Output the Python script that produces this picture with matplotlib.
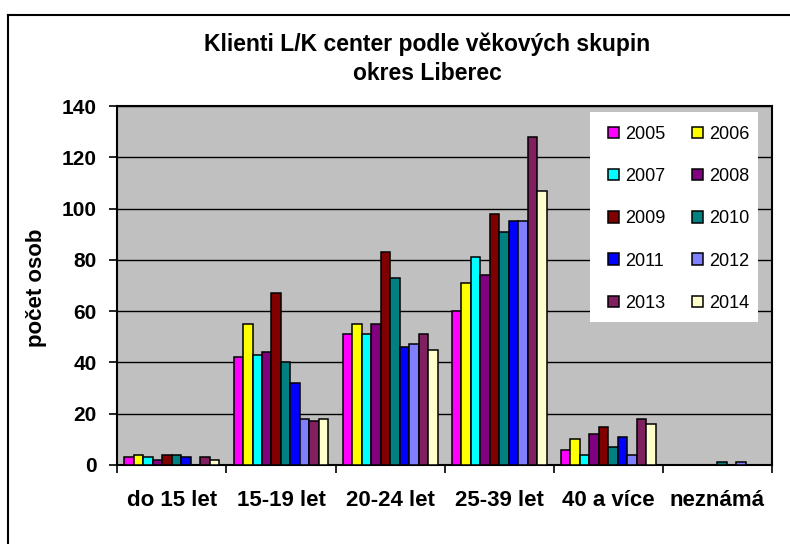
import matplotlib
matplotlib.use("Agg")
import matplotlib.pyplot as plt
from matplotlib.patches import Rectangle
from matplotlib.lines import Line2D
import numpy as np

plt.rcParams['font.family'] = ['Liberation Sans', 'DejaVu Sans']

categories = ["do 15 let", "15-19 let", "20-24 let", "25-39 let", "40 a více", "neznámá"]
years = ["2005", "2006", "2007", "2008", "2009", "2010", "2011", "2012", "2013", "2014"]

v2005 = [3, 42, 51, 60, 6, 0]
v2006 = [4, 55, 55, 71, 10, 0]
v2007 = [3, 43, 51, 81, 4, 0]
v2008 = [2, 44, 55, 74, 12, 0]
v2009 = [4, 67, 83, 98, 15, 0]
v2010 = [4, 40, 73, 91, 7, 1]
v2011 = [3, 32, 46, 95, 11, 0]
v2012 = [0, 18, 47, 95, 4, 1]
v2013 = [3, 17, 51, 128, 18, 0]
v2014 = [2, 18, 45, 107, 16, 0]
series = [v2005, v2006, v2007, v2008, v2009, v2010, v2011, v2012, v2013, v2014]

colors = ["#FF00FF", "#FFFF00", "#00FFFF", "#800080", "#800000",
          "#008080", "#0000FF", "#8080FF", "#802060", "#FFFFCC"]

W, H = 790, 544
AX_L, AX_R, AX_T, AX_B = 117.3, 772, 106, 465
fig = plt.figure(figsize=(W / 100, H / 100), dpi=100)
ax = fig.add_axes([AX_L / W, 1 - AX_B / H, (AX_R - AX_L) / W, (AX_B - AX_T) / H])
ax.set_facecolor("#C0C0C0")

x = np.arange(len(categories))
n = len(series)
bw = 1.0 / (n + 1.5)
handles = []
for k, (vals, c, lab) in enumerate(zip(series, colors, years)):
    b = ax.bar(x + (k - (n - 1) / 2) * bw, vals, width=bw, color=c,
               edgecolor="black", linewidth=1.1, label=lab, zorder=3)
    handles.append(b)

ax.set_xlim(-0.5, len(categories) - 0.5)
ax.set_ylim(0, 140)
ax.set_yticks(np.arange(0, 141, 20))
ax.yaxis.grid(True, color="black", linewidth=1.0, zorder=1)
ax.set_axisbelow(True)
ax.set_xticks(x)
ax.set_xticklabels(categories, fontsize=16, fontweight="bold")
ax.set_xticks(np.arange(-0.5, len(categories)), minor=True)
ax.tick_params(axis="x", which="major", length=0, pad=18)
ax.tick_params(axis="x", which="minor", length=6, width=1.2, direction="out")
ax.tick_params(axis="y", length=6, width=1.2, direction="out", pad=9)
for lbl in ax.get_yticklabels():
    lbl.set_fontsize(15)
    lbl.set_fontweight("bold")
for s in ax.spines.values():
    s.set_linewidth(1.5)
    s.set_color("black")

ax.set_ylabel("počet osob", fontsize=16, fontweight="bold")
ax.yaxis.set_label_coords((47 - AX_L) / (AX_R - AX_L), (AX_B - 288) / (AX_B - AX_T))

fig.text(427 / W, 1 - 44 / H, "Klienti L/K center podle věkových skupin",
         ha="center", va="center", fontsize=16.5, fontweight="bold")
fig.text(427 / W, 1 - 74 / H, "okres Liberec",
         ha="center", va="center", fontsize=16.5, fontweight="bold")

# white legend box
ax.add_patch(Rectangle((590 / W, 1 - 322 / H), (758 - 590) / W, (322 - 112) / H,
                       transform=fig.transFigure, facecolor="white", edgecolor="none",
                       zorder=4, clip_on=False))

order = list(range(n))
col_major = order[0::2] + order[1::2]
leg = ax.legend([handles[i] for i in col_major], [years[i] for i in col_major],
                ncol=2, loc="upper left",
                bbox_to_anchor=(596 / W, 1 - 114 / H), bbox_transform=fig.transFigure,
                borderaxespad=0, fontsize=13, frameon=False,
                handlelength=0.6, handleheight=0.6, handletextpad=0.35,
                columnspacing=1.5, labelspacing=1.4, borderpad=0.65)
leg.set_zorder(5)

fig.add_artist(Line2D([8 / W, 8 / W], [0, 1 - 15 / H], color="black", linewidth=1.5))
fig.add_artist(Line2D([8 / W, 1], [1 - 15 / H, 1 - 15 / H], color="black", linewidth=1.5))

fig.savefig("out.png", dpi=100)
